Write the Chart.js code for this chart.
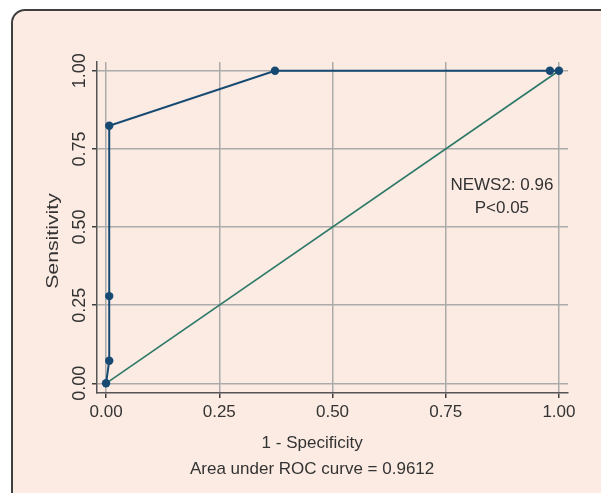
<!DOCTYPE html>
<html>
<head>
<meta charset="utf-8">
<script src="https://cdn.jsdelivr.net/npm/chart.js@4.4.1/dist/chart.umd.min.js"></script>
<style>
  html, body { margin: 0; padding: 0; width: 601px; height: 493px; overflow: hidden; background: #ffffff; }
  #card { position: absolute; left: 11px; top: 9px; width: 640px; height: 560px; box-sizing: border-box;
          border: 2px solid #3f3f3f; border-radius: 14px; background: #fcebe3; }
  #c { position: absolute; left: 0; top: 0; }
</style>
</head>
<body>
<div id="card"></div>
<canvas id="c" width="601" height="493"></canvas>
<script>
// ---- data ----
const xTickValues = [0, 0.25, 0.5, 0.75, 1];
const xTickLabels = ['0.00', '0.25', '0.50', '0.75', '1.00'];
const yTickValues = [0, 0.25, 0.5, 0.75, 1];
const yTickLabels = ['0.00', '0.25', '0.50', '0.75', '1.00'];
const rocX = [0, 0.007, 0.007, 0.007, 0.373, 0.98, 1.0];
const rocY = [0, 0.072, 0.279, 0.824, 1.0, 1.0, 1.0];
const refX = [0, 1];
const refY = [0, 1];
const xTitle = '1 - Specificity';
const xNote = 'Area under ROC curve = 0.9612';
const yTitle = 'Sensitivity';
const annotLines = ['NEWS2: 0.96', 'P<0.05'];

const FONT = '"Liberation Sans", Arial, Helvetica, sans-serif';
const TXT = '#333333';

const textPlugin = {
  id: 'texts',
  afterDraw(chart) {
    const ctx = chart.ctx;
    const xs = chart.scales.x, ys = chart.scales.y;
    ctx.save();
    ctx.fillStyle = TXT;
    ctx.font = '17px ' + FONT;
    ctx.textAlign = 'center';
    ctx.textBaseline = 'alphabetic';
    // annotation inside plot
    const ax = xs.getPixelForValue(0.874);
    ctx.fillText(annotLines[0], ax, ys.getPixelForValue(0.617));
    ctx.fillText(annotLines[1], ax, ys.getPixelForValue(0.546));
    // x title and note
    const cx = xs.getPixelForValue(0.455);
    ctx.fillText(xTitle, cx, 448);
    ctx.fillText(xNote, cx, 474);
    // y title
    ctx.translate(58, 241);
    ctx.rotate(-Math.PI / 2);
    ctx.scale(1.25, 1);
    ctx.fillText(yTitle, 0, 0);
    ctx.restore();
  }
};

new Chart(document.getElementById('c'), {
  type: 'scatter',
  data: {
    datasets: [
      {
        data: rocX.map((x, i) => ({ x, y: rocY[i] })),
        showLine: true,
        borderColor: '#174a72',
        backgroundColor: '#174a72',
        borderWidth: 2,
        pointRadius: 4.2,
        pointBorderWidth: 0,
        order: 1
      },
      {
        data: refX.map((x, i) => ({ x, y: refY[i] })),
        showLine: true,
        borderColor: '#2c7867',
        backgroundColor: '#2c7867',
        borderWidth: 1.6,
        pointRadius: 0,
        order: 2
      }
    ]
  },
  options: {
    responsive: false,
    animation: false,
    events: [],
    layout: { padding: { left: 0, top: 62, right: 33, bottom: 0 } },
    plugins: { legend: { display: false }, tooltip: { enabled: false } },
    scales: {
      x: {
        type: 'linear',
        min: -0.02, max: 1.02,
        afterBuildTicks: s => { s.ticks = xTickValues.map(v => ({ value: v })); },
        afterFit: s => { s.height = 100; },
        ticks: {
          callback: (v) => xTickLabels[xTickValues.indexOf(v)],
          font: { size: 17, family: FONT },
          color: TXT,
          padding: 4,
          maxRotation: 0
        },
        grid: { color: '#ababab', lineWidth: 1.5, tickColor: '#3f3f3f', tickLength: 5 },
        border: { color: '#555555', width: 1.5 }
      },
      y: {
        type: 'linear',
        min: -0.031, max: 1.028,
        afterBuildTicks: s => { s.ticks = yTickValues.map(v => ({ value: v })); },
        afterFit: s => { s.width = 97; },
        ticks: {
          callback: (v) => yTickLabels[yTickValues.indexOf(v)],
          font: { size: 18, family: FONT },
          color: TXT,
          minRotation: 90, maxRotation: 90,
          crossAlign: 'center',
          padding: -6
        },
        grid: { color: '#ababab', lineWidth: 1.5, tickColor: '#3f3f3f', tickLength: 5 },
        border: { color: '#555555', width: 1.5 }
      }
    }
  },
  plugins: [textPlugin]
});
</script>
</body>
</html>
